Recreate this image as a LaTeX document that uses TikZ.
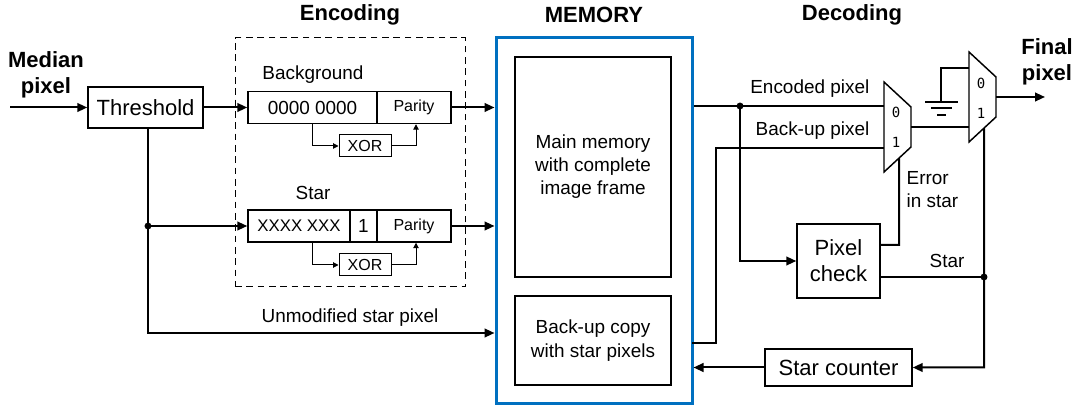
\documentclass[tikz,border=0pt]{standalone}
\usepackage{fontspec}
\setmainfont{Liberation Sans}
\newfontfamily\monof{DejaVu Sans Mono}
\usetikzlibrary{arrows.meta,calc}
\definecolor{memblue}{RGB}{0,112,192}
\tikzset{
  sz/.style 2 args={minimum width={#1*0.75pt},minimum height={#2*0.75pt}},
  box/.style={draw,line width=1.1pt,inner sep=0pt,align=center},
  wire/.style={line width=1.5pt},
  arr/.style={wire,-{Triangle[length=7.5pt,width=6.5pt]}},
  thinw/.style={line width=0.75pt},
  tarr/.style={thinw,-{Triangle[length=4pt,width=4pt]}},
  big/.style={font=\fontsize{16.5}{19.5}\selectfont},
  mid/.style={font=\fontsize{14.2}{17.25}\selectfont},
  reg/.style={font=\fontsize{12.6}{15}\selectfont},
  sml/.style={font=\fontsize{12}{14}\selectfont},
  hdr/.style={font=\bfseries\fontsize{16.5}{19.5}\selectfont},
  dig/.style={font=\monof\fontsize{10.5}{12}\selectfont},
  jdot/.style={circle,fill,inner sep=0pt,minimum size=5.2pt},
  muxl/.style={line width=1.1pt,line join=miter},
}
\begin{document}
\begin{tikzpicture}[x=0.75pt,y=-0.75pt]
\useasboundingbox (0,0) rectangle (1078,409);

% headers
\node[hdr] (h1) at (350,15) {Encoding};
\node[hdr] (h2) at (594,15) {MEMORY};
\node[hdr] (h3) at (852,15) {Decoding};
\node[hdr,align=center] (mp) at (46,75) {Median\\pixel};
\node[hdr,align=center] (fp) at (1047,62) {Final\\pixel};

% threshold
\node[box,big,sz={115}{41}] (thr) at (145.5,107.5) {Threshold};
\coordinate (in) at (10,107.5);
\draw[arr] (in) -- (thr.west);

% encoding dashed box
\node[draw,thinw,dash pattern=on 5pt off 3.5pt,sz={230}{249}] (encbox) at (350,162.5) {};

% background register
\node[mid] (bgl) at (313,75) {Background};
\node[box,mid,sz={129}{32}] (bgd) at (312.5,107.5) {0000 0000};
\node[box,sml,sz={74}{32}] (bpar) at (414,107.5) {Parity};
\node[draw,thinw,sml,inner sep=0pt,sz={52}{22}] (xor1) at (365,146) {XOR};
\draw[tarr] (bgd.south) |- (xor1.west);
\draw[tarr] (xor1.east) -| ($(bpar.south)+(2,0)$);
\draw[arr] (thr.east) -- (bgd.west);

% star register
\node[mid] (stl) at (313,193) {Star};
\node[box,reg,sz={102}{32}] (sd) at (299,226) {XXXX XXX};
\node[box,mid,sz={27}{32}] (s1) at (363.5,226) {1};
\node[box,sml,sz={74}{32}] (spar) at (414,226) {Parity};
\node[draw,thinw,sml,inner sep=0pt,sz={52}{22}] (xor2) at (365,265) {XOR};
\draw[tarr] (sd.south -| bgd.south) |- (xor2.west);
\draw[tarr] (xor2.east) -| ($(spar.south)+(2,0)$);

% memory
\node[draw=memblue,line width=2.25pt,sz={196}{366}] (mem) at (594,221) {};
\node[box,mid,sz={156}{220}] (mm) at (593,167) {Main memory\\with complete\\image frame};
\node[box,sz={156}{89},font=\fontsize{14.2}{18}\selectfont] (bk) at (593,340.5) {Back-up copy\\with star pixels};

\draw[arr] (bpar.east) -- (bpar.east -| mem.west);
\draw[arr] (spar.east) -- (spar.east -| mem.west);

% threshold branch
\coordinate (j1) at (148,226);
\coordinate (um) at (148,333);
\draw[wire] (j1 |- thr.south) -- (j1);
\draw[arr] (j1) -- (sd.west);
\draw[arr] (j1) -- (um) -- (um -| mem.west);
\node[jdot] (d1) at (j1) {};
\node[mid] (uml) at (350,318) {Unmodified star pixel};

% muxes
\coordinate (m1a) at (884,82);
\coordinate (m1b) at (911,107);
\coordinate (m1c) at (911,147);
\coordinate (m1d) at (884,172);
\draw[muxl] (m1a) -- (m1b) -- (m1c) -- (m1d) -- cycle;
\coordinate (m1i0) at (884,106);
\coordinate (m1i1) at (884,148);
\coordinate (m1o) at (911,127);
\coordinate (m1s) at ($(m1c)!0.444!(m1d)$);
\node[dig] (m1l0) at (896,112) {0};
\node[dig] (m1l1) at (896,142) {1};

\coordinate (m2a) at (969,52);
\coordinate (m2b) at (996,77);
\coordinate (m2c) at (996,117);
\coordinate (m2d) at (969,142);
\draw[muxl] (m2a) -- (m2b) -- (m2c) -- (m2d) -- cycle;
\coordinate (m2i0) at (969,68);
\coordinate (m2i1) at (969,127);
\coordinate (m2o) at (996,97);
\coordinate (m2s) at ($(m2c)!0.444!(m2d)$);
\node[dig] (m2l0) at (981,83) {0};
\node[dig] (m2l1) at (981,113) {1};

% ground
\coordinate (gnd) at (941,102);
\draw[wire] (m2i0) -| (gnd);
\draw[wire] (925,102) -- (958,102);
\draw[wire] (931,108.5) -- (952,108.5);
\draw[wire] (937,115) -- (946,115);

% decoding wiring
\coordinate (eo) at (692,106);
\coordinate (j2) at (740,106);
\draw[wire] (eo -| mem.east) -- (m1i0);
\node[mid,anchor=east] (encl) at (874,89) {Encoded pixel};
\node[mid,anchor=east] (bul) at (874,131) {Back-up pixel};

\coordinate (bko) at (692,343);
\coordinate (bu) at (716,148);
\draw[wire] (bko) -| (bu) -- (m1i1);

\node[box,big,sz={83}{74}] (pc) at (838.5,261) {Pixel\\check};
\draw[arr] (j2) |- (pc.west);
\node[jdot] (d2) at (j2) {};

\coordinate (es) at (899,245);
\draw[wire] (es -| pc.east) -- (es) -- (m1s);
\node[mid,anchor=west,align=left] (errl) at (902,189.5) {Error\\in star};

\draw[wire] (m1o) -- (m2i1);
\draw[arr] (m2o) -- (1045,97);

\node[box,big,sz={147}{37}] (sc) at (838.5,367.5) {Star counter};
\coordinate (j3) at (984,277);
\draw[wire] (pc.east |- j3) -- (j3);
\node[mid] (stl2) at (947,261) {Star};
\draw[arr] (m2s) -- (j3) |- (sc.east);
\node[jdot] (d3) at (j3) {};
\draw[arr] (sc.west) -- (sc.west -| mem.east);
\end{tikzpicture}
\end{document}
